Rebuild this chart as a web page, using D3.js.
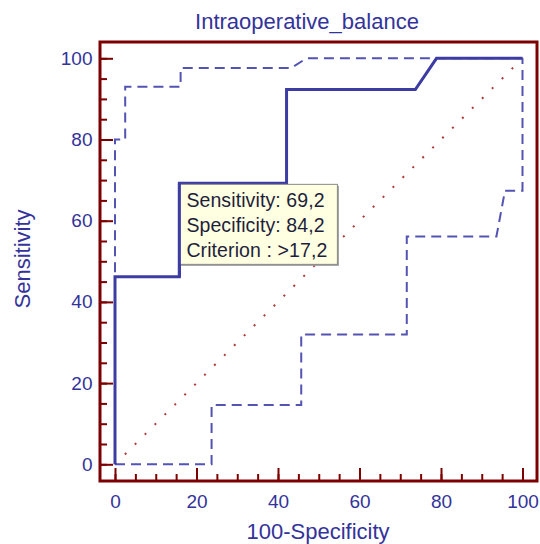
<!DOCTYPE html>
<html>
<head>
<meta charset="utf-8">
<script src="https://cdn.jsdelivr.net/npm/d3@7"></script>
<style>
  html, body { margin: 0; padding: 0; background: #fff; }
  svg { display: block; font-family: "Liberation Sans", Arial, sans-serif; }
</style>
</head>
<body>
<svg id="chart" width="540" height="544"></svg>
<script>
// ---- data ----
const title = "Intraoperative_balance";
const xLabel = "100-Specificity";
const yLabel = "Sensitivity";
const majorTicks = [0, 20, 40, 60, 80, 100];
const minorTicks = d3.range(0, 101, 5);
// ROC curve: [100-Specificity, Sensitivity]
const rocX = [0, 0, 15.8, 15.8, 42.1, 42.1, 73.7, 78.9, 100];
const rocY = [0, 46.2, 46.2, 69.2, 69.2, 92.3, 92.3, 100, 100];
// upper confidence bound
const upX = [0, 0, 2.5, 2.5, 16.1, 16.1, 43.2, 47.0, 100];
const upY = [0, 80, 80, 93.0, 93.0, 97.6, 97.6, 100, 100];
// lower confidence bound
const loX = [0, 23.7, 23.7, 45.7, 45.7, 71.6, 71.6, 93.6, 95.7, 100, 100];
const loY = [0, 0, 14.6, 14.6, 32.0, 32.0, 56.1, 56.1, 67.4, 67.4, 100];
// reference diagonal
const diagX = [0, 100];
const diagY = [0, 100];
// highlighted criterion point
const critPoint = { x: 15.8, y: 69.2 };
const tipLines = ["Sensitivity: 69,2", "Specificity: 84,2", "Criterion : >17,2"];

// ---- layout ----
const frame = { x: 100, y: 42, w: 437, h: 439 };
const textColor = "#33339a";
const frameColor = "#7d0000";

const svg = d3.select("#chart");
const x = d3.scaleLinear().domain([0, 100]).range([115, 522.5]);
const y = d3.scaleLinear().domain([0, 100]).range([464.3, 58.3]);

const toPts = (xs, ys) => xs.map((v, i) => [v, ys[i]]);
const line = d3.line().x(d => x(d[0])).y(d => y(d[1]));

// title
svg.append("text")
  .attr("x", 307).attr("y", 29)
  .attr("text-anchor", "middle")
  .attr("font-size", 22)
  .attr("fill", textColor)
  .text(title);

// axes (ticks inside frame)
const bottom = frame.y + frame.h;
const gxMinor = svg.append("g").attr("transform", `translate(0,${bottom})`)
  .call(d3.axisBottom(x).tickValues(minorTicks).tickSizeInner(-7).tickSizeOuter(0).tickFormat(""));
const gx = svg.append("g").attr("transform", `translate(0,${bottom})`)
  .call(d3.axisBottom(x).tickValues(majorTicks).tickSizeInner(-13).tickSizeOuter(0).tickPadding(13.5).tickFormat(d3.format("d")));
const gyMinor = svg.append("g").attr("transform", `translate(${frame.x},0)`)
  .call(d3.axisLeft(y).tickValues(minorTicks).tickSizeInner(-7).tickSizeOuter(0).tickFormat(""));
const gy = svg.append("g").attr("transform", `translate(${frame.x},0)`)
  .call(d3.axisLeft(y).tickValues(majorTicks).tickSizeInner(-13).tickSizeOuter(0).tickPadding(7.5).tickFormat(d3.format("d")));

[gxMinor, gx, gyMinor, gy].forEach(g => {
  g.select(".domain").remove();
  g.selectAll(".tick line").attr("stroke", frameColor).attr("stroke-width", 2);
  g.selectAll(".tick text").attr("fill", textColor).attr("font-size", 19)
    .attr("font-family", "'Liberation Sans', Arial, sans-serif");
});

// axis titles
svg.append("text")
  .attr("x", 318).attr("y", 539)
  .attr("text-anchor", "middle")
  .attr("font-size", 22)
  .attr("fill", textColor)
  .text(xLabel);
svg.append("text")
  .attr("transform", "translate(30,259) rotate(-90)")
  .attr("text-anchor", "middle")
  .attr("font-size", 22)
  .attr("fill", textColor)
  .text(yLabel);

// diagonal
svg.append("path")
  .attr("d", line(toPts(diagX, diagY)))
  .attr("fill", "none")
  .attr("stroke", "#b03838")
  .attr("stroke-width", 2)
  .attr("stroke-dasharray", "2,12");

// confidence bounds
const dashStyle = sel => sel.attr("fill", "none")
  .attr("stroke", "#5353b3").attr("stroke-width", 2)
  .attr("stroke-dasharray", "10,6");
svg.append("path").attr("d", line(toPts(upX, upY))).call(dashStyle);
svg.append("path").attr("d", line(toPts(loX, loY))).call(dashStyle);

// ROC curve
const rocPts = toPts(rocX, rocY);
svg.append("path")
  .attr("d", line(rocPts))
  .attr("fill", "none")
  .attr("stroke", "#3c3ca2")
  .attr("stroke-width", 3)
  .attr("stroke-linejoin", "miter");

// tooltip box
const bx = x(critPoint.x), by = y(critPoint.y) + 1;
const bw = 158, bh = 80;
svg.append("rect")
  .attr("x", bx + 1.5).attr("y", by + 1.5)
  .attr("width", bw).attr("height", bh)
  .attr("fill", "#9a9a9a");
svg.append("rect")
  .attr("x", bx).attr("y", by)
  .attr("width", bw).attr("height", bh)
  .attr("fill", "#ffffe1")
  .attr("stroke", "#8a8a8a")
  .attr("stroke-width", 1);
// ROC segment on the box's left edge stays visible
svg.append("path")
  .attr("d", line([rocPts[2], rocPts[3]]))
  .attr("stroke", "#3c3ca2").attr("stroke-width", 3).attr("fill", "none");

svg.selectAll(".tip").data(tipLines).enter().append("text")
  .attr("class", "tip")
  .attr("x", bx + 7)
  .attr("y", (d, i) => by + 22.5 + i * 25)
  .attr("font-size", 19.5)
  .attr("letter-spacing", 0.1)
  .attr("fill", "#1e1e3c")
  .text(d => d);

// frame
svg.append("rect")
  .attr("x", frame.x).attr("y", frame.y)
  .attr("width", frame.w).attr("height", frame.h)
  .attr("fill", "none")
  .attr("stroke", frameColor)
  .attr("stroke-width", 3);
</script>
</body>
</html>
